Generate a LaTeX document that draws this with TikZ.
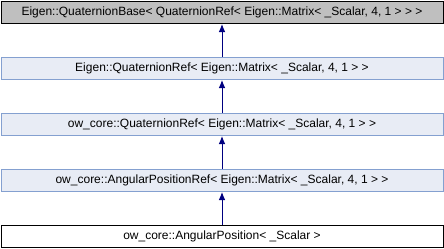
\documentclass[tikz,border=0pt]{standalone}
\usepackage{fontspec}
\setmainfont{Liberation Sans}
\usetikzlibrary{arrows.meta}
\definecolor{basefill}{HTML}{BFBFBF}
\definecolor{reffill}{HTML}{E8ECF5}
\definecolor{refdraw}{HTML}{84A0D0}
\definecolor{edgecol}{HTML}{000080}
\begin{document}
\begin{tikzpicture}[x=0.75pt,y=-0.75pt,
  cls/.style={draw, line width=0.75pt, minimum width=442*0.75pt, minimum height=22.5*0.75pt,
    inner sep=0pt, font=\fontsize{9pt}{10pt}\selectfont, anchor=north west},
  basecls/.style={cls, fill=basefill, draw=black},
  refcls/.style={cls, fill=reffill, draw=refdraw},
  leafcls/.style={cls, fill=white, draw=black},
  inherit/.style={draw=edgecol, line width=0.75pt, -{Latex[length=6pt,width=5pt]}}]
  \useasboundingbox (0,0) rectangle (444,248);
  \node[basecls] (qb) at (0.5,0.5) {Eigen::QuaternionBase<\ QuaternionRef<\ Eigen::Matrix<\ \_Scalar, 4, 1 >\ >\ >};
  \node[refcls] (eqr) at (0.5,56.5) {Eigen::QuaternionRef<\ Eigen::Matrix<\ \_Scalar, 4, 1 >\ >};
  \node[refcls] (oqr) at (0.5,112.5) {ow\_core::QuaternionRef<\ Eigen::Matrix<\ \_Scalar, 4, 1 >\ >};
  \node[refcls] (apr) at (0.5,168.5) {ow\_core::AngularPositionRef<\ Eigen::Matrix<\ \_Scalar, 4, 1 >\ >};
  \node[leafcls] (ap) at (0.5,224.5) {ow\_core::AngularPosition<\ \_Scalar >};
  \draw[inherit] (eqr.north) -- (qb.south);
  \draw[inherit] (oqr.north) -- (eqr.south);
  \draw[inherit] (apr.north) -- (oqr.south);
  \draw[inherit] (ap.north) -- (apr.south);
\end{tikzpicture}
\end{document}
